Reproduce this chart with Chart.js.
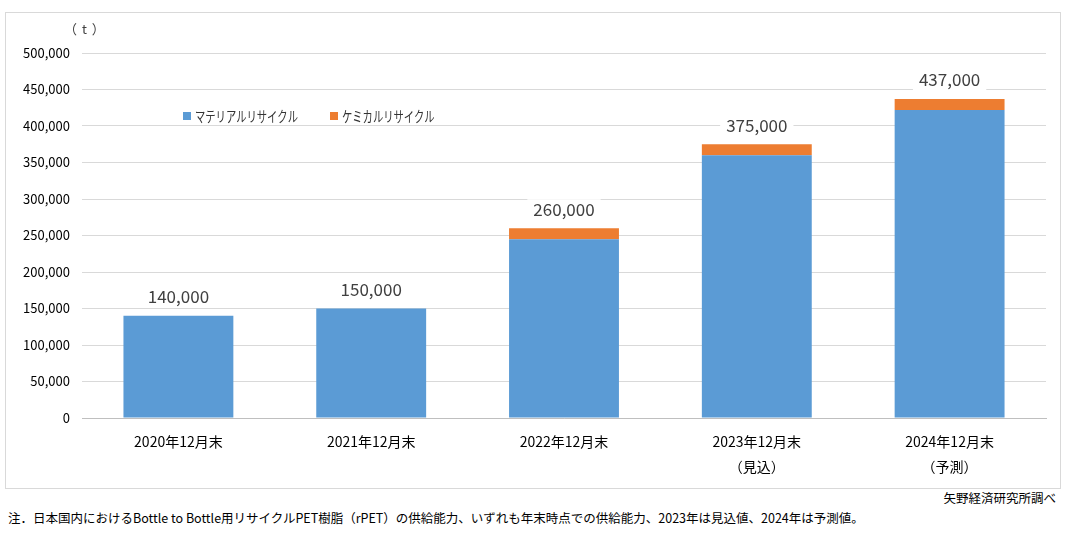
<!DOCTYPE html>
<html>
<head>
<meta charset="utf-8">
<script src="https://cdn.jsdelivr.net/npm/chart.js@4.4.0/dist/chart.umd.min.js"></script>
<style>
  body { margin: 0; background: #fff; font-family: "Noto Sans CJK JP", sans-serif; }
  #frame { position: absolute; left: 5px; top: 12px; width: 1054px; height: 475px; border: 1px solid #d9d9d9; }
  #unit { position: absolute; left: 64px; top: 19px; font-size: 13px; color: #404040; letter-spacing: 1px; }
  #source { position: absolute; right: 14px; top: 488px; font-size: 12.5px; color: #000; }
  #note { position: absolute; left: 8px; top: 508px; font-size: 12.5px; color: #000; }
</style>
</head>
<body>
<div id="frame"><canvas id="chart" width="1054" height="475"></canvas></div>
<div id="unit">（ t ）</div>
<div id="source">矢野経済研究所調べ</div>
<div id="note">注．日本国内におけるBottle to Bottle用リサイクルPET樹脂（rPET）の供給能力、いずれも年末時点での供給能力、2023年は見込値、2024年は予測値。</div>
<script>
// ── DATA ──────────────────────────────────────
const categories = [
  ["2020年12月末"],
  ["2021年12月末"],
  ["2022年12月末"],
  ["2023年12月末", "（見込）"],
  ["2024年12月末", "（予測）"]
];
const materialValues = [140000, 150000, 245000, 360000, 422000];
const chemicalValues = [0, 0, 15000, 15000, 15000];
const seriesNames = ["マテリアルリサイクル", "ケミカルリサイクル"];
const seriesColors = ["#5B9BD5", "#ED7D31"];
const FONT = '"Noto Sans CJK JP", sans-serif';

// ── TOTAL LABELS (white box behind text) ──────
const totalLabels = {
  id: "totalLabels",
  afterDatasetsDraw(chart) {
    const ctx = chart.ctx;
    const yScale = chart.scales.y;
    const meta = chart.getDatasetMeta(0);
    ctx.save();
    ctx.font = "17px " + FONT;
    ctx.textAlign = "center";
    ctx.textBaseline = "middle";
    materialValues.forEach((v, i) => {
      const total = v + chemicalValues[i];
      const x = meta.data[i].x;
      const y = yScale.getPixelForValue(total) - 19;
      const txt = total.toLocaleString("en-US");
      const w = ctx.measureText(txt).width + 12;
      ctx.fillStyle = "#fff";
      ctx.fillRect(x - w / 2, y - 10, w, 20);
      ctx.fillStyle = "#404040";
      ctx.fillText(txt, x, y);
    });
    ctx.restore();
  }
};

// ── LEGEND INSIDE PLOT (narrow text like the original) ──
const innerLegend = {
  id: "innerLegend",
  afterDraw(chart) {
    const ctx = chart.ctx;
    const xs = [177, 324];
    ctx.save();
    ctx.font = "14.5px " + FONT;
    ctx.textBaseline = "middle";
    xs.forEach((x, i) => {
      ctx.fillStyle = seriesColors[i];
      ctx.fillRect(x, 99, 8, 8);
      ctx.save();
      ctx.translate(x + 12, 103);
      ctx.scale(0.71, 1);
      ctx.fillStyle = "#333";
      ctx.fillText(seriesNames[i], 0, 0);
      ctx.restore();
    });
    ctx.restore();
  }
};

new Chart(document.getElementById("chart"), {
  type: "bar",
  data: {
    labels: categories,
    datasets: [
      { label: seriesNames[0], data: materialValues, backgroundColor: seriesColors[0] },
      { label: seriesNames[1], data: chemicalValues, backgroundColor: seriesColors[1] }
    ]
  },
  options: {
    responsive: false,
    animation: false,
    layout: { padding: { top: 40, right: 14, left: 0, bottom: 0 } },
    datasets: { bar: { barPercentage: 0.57, categoryPercentage: 1 } },
    plugins: { legend: { display: false }, tooltip: { enabled: false } },
    scales: {
      x: {
        stacked: true,
        grid: { display: false },
        border: { color: "#bfbfbf" },
        ticks: { color: "#000", font: { family: FONT, size: 14, lineHeight: "25px" }, padding: 3 },
        afterFit: s => { s.height = 70; }
      },
      y: {
        stacked: true,
        min: 0,
        max: 500000,
        grid: { color: "#d9d9d9", drawTicks: false },
        border: { display: false },
        ticks: {
          stepSize: 50000,
          padding: 12,
          color: "#000",
          font: { family: FONT, size: 13 },
          callback: v => v.toLocaleString("en-US")
        },
        afterFit: s => { s.width = 76; }
      }
    }
  },
  plugins: [totalLabels, innerLegend]
});
</script>
</body>
</html>
